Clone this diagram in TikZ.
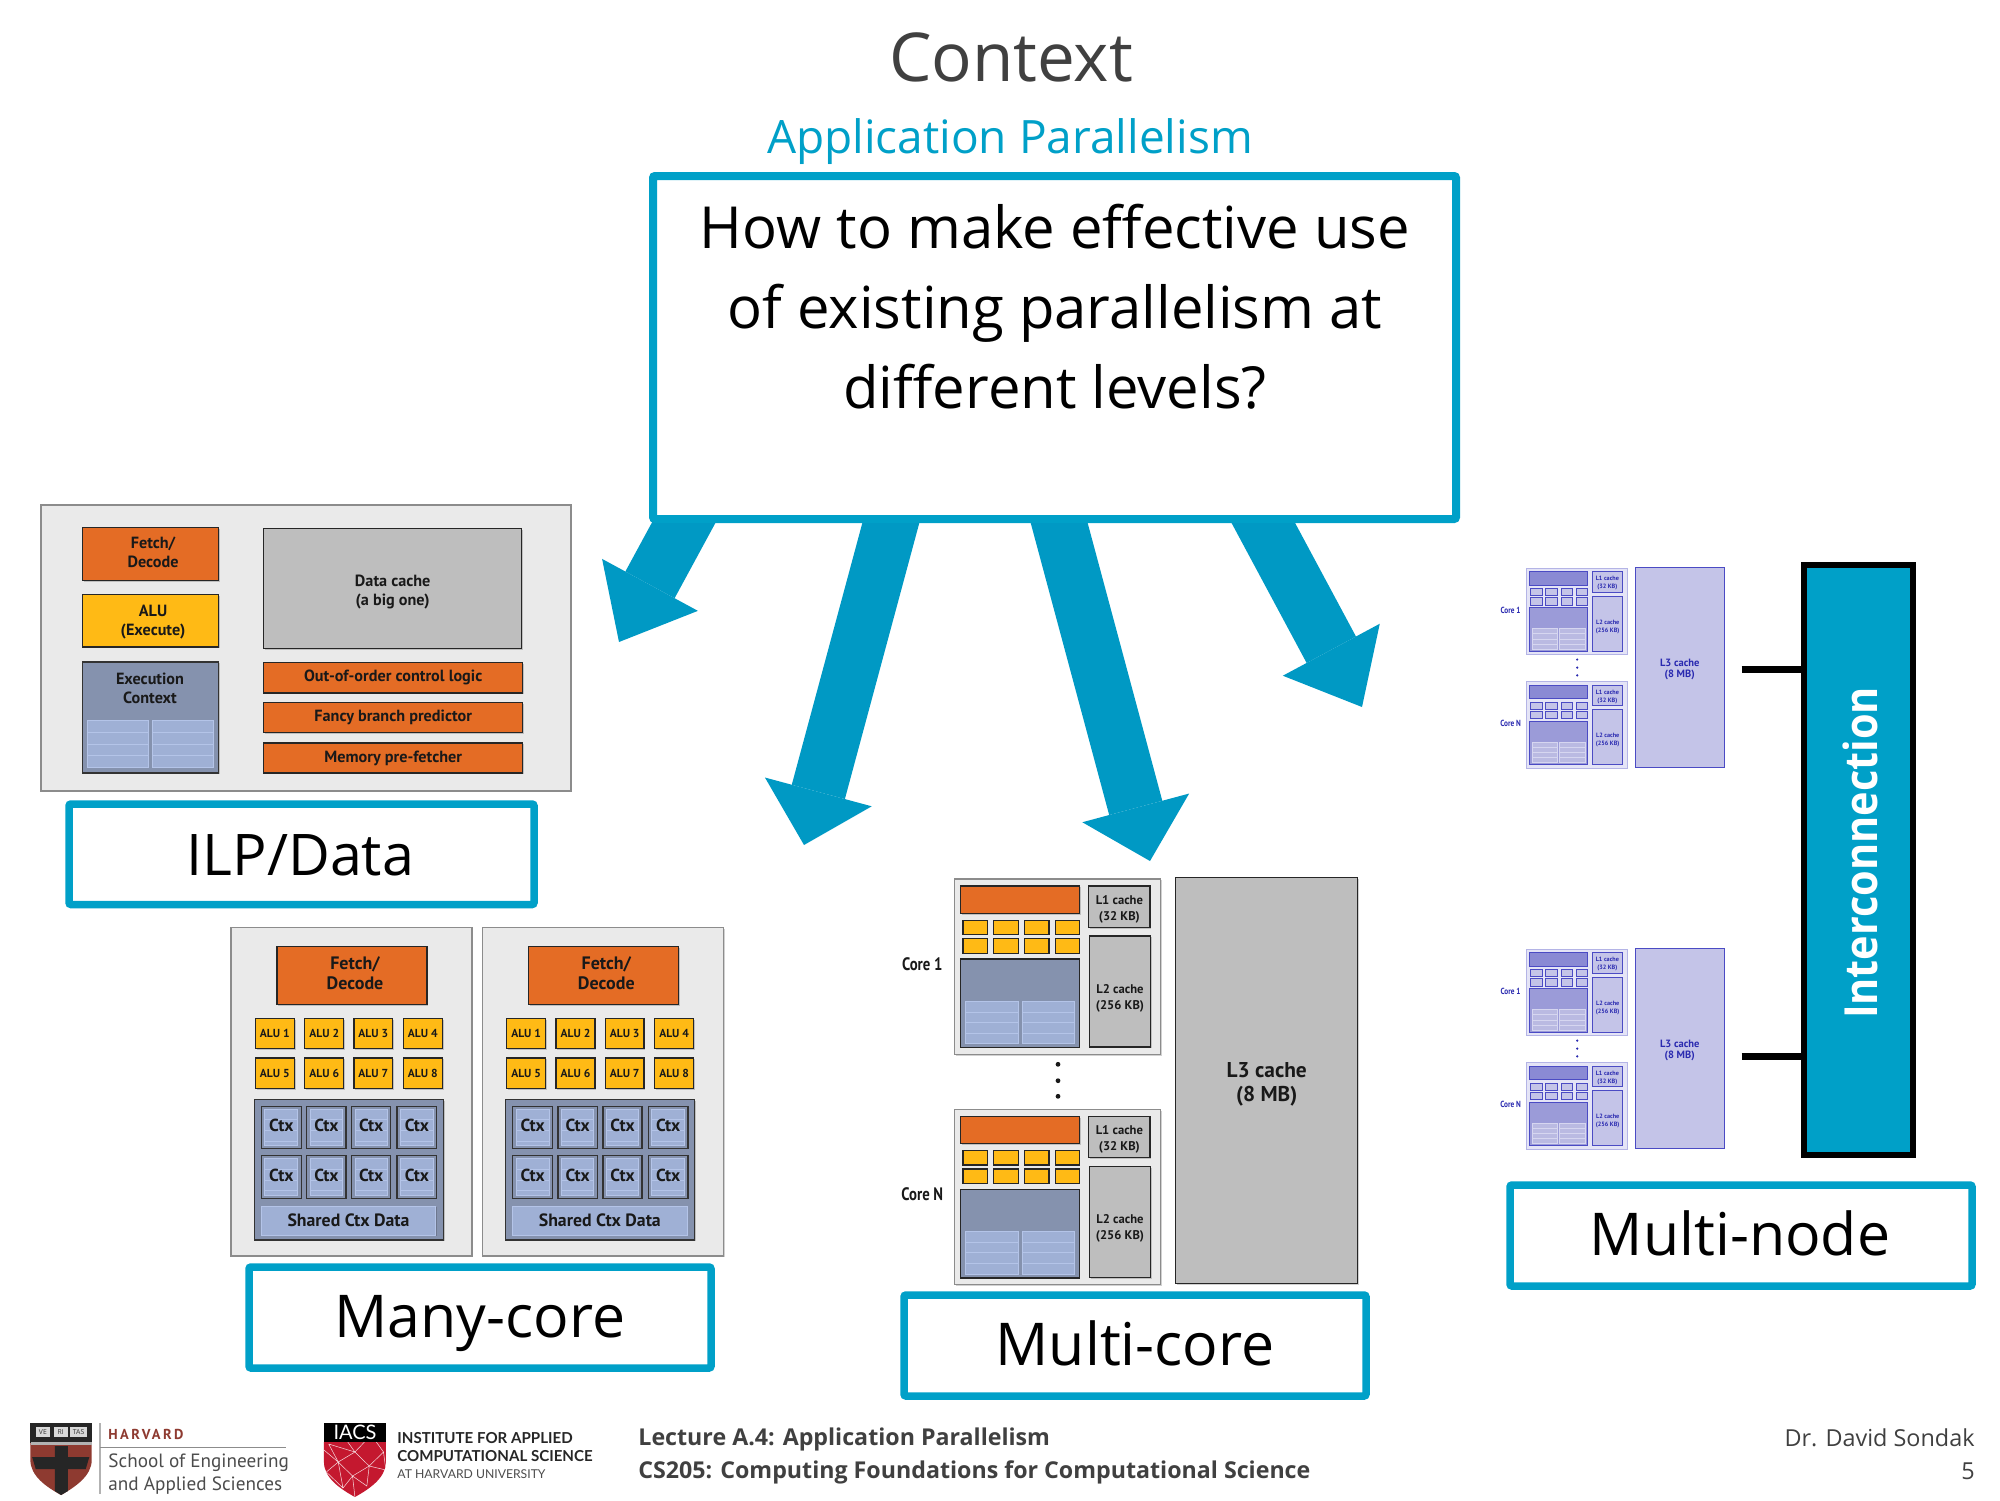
\documentclass[tikz,border=0pt]{standalone}
\usepackage{fontspec}
\usetikzlibrary{arrows.meta}
\setmainfont{Open Sans}
\newfontfamily\figf{PT Sans}
\newfontfamily\latof{Lato}
\definecolor{teal1}{HTML}{00A0C8}
\definecolor{teal2}{HTML}{0099C4}
\definecolor{titleg}{HTML}{404040}
\definecolor{panelg}{HTML}{EAEAEA}
\definecolor{orangec}{HTML}{E46C25}
\definecolor{yellowc}{HTML}{FFBA15}
\definecolor{ctxc}{HTML}{8592AE}
\definecolor{regc}{HTML}{9FB0D5}
\definecolor{reglc}{HTML}{B4C4E8}
\definecolor{cacheg}{HTML}{BEBEBE}
\definecolor{hred}{HTML}{8E3A30}
\definecolor{ired}{HTML}{C4182F}
\tikzset{
  labelbox/.style={draw=teal1,line width=3.75pt,fill=white,rounded corners=1pt},
  labeltext/.style={font=\fontsize{29.5}{35}\selectfont,anchor=base,text=black},
  bigarrow/.style={draw=teal2,line width=#1},
  panelbx/.style={draw=gray!90,fill=panelg,line width=.7pt},
  orangebx/.style={draw=black!85,fill=orangec,line width=.6pt},
  yellowbx/.style={draw=black!85,fill=yellowc,line width=.6pt},
  ctxbx/.style={draw=black!80,fill=ctxc,line width=.6pt},
  cachebx/.style={draw=black!85,fill=cacheg,line width=.6pt},
  sharedbx/.style={draw=reglc,fill=regc,line width=.5pt},
  bxt/.style={},
  foott/.style={anchor=base west,text=titleg,inner sep=0pt},
}
% box with a small shadow and a centred text node
\newcommand\bx[8][]{%
  \fill[black,opacity=.18] (#3+1.2,#4+1.2) rectangle (#5+1.2,#6+1.2);
  \path[#7] (#3,#4) rectangle (#5,#6) node[midway,align=center,inner sep=0pt,bxt,#1,name=#2] {#8};}
% register block: four rows
\newcommand\regs[4]{%
  \path[draw=reglc,fill=regc,line width=.5pt] (#1,#2) rectangle (#3,#4);
  \foreach \t in {.25,.5,.75}{\draw[reglc,line width=.5pt] (#1,{#2+\t*(#4-#2)}) -- (#3,{#2+\t*(#4-#2)});}}
% one many-core processor
\newcommand\manycore[1]{%
  \bx{#1p}{231}{927.7}{472}{1256}{panelbx}{}
  \begin{scope}[bxt/.style={font=\figf\bfseries\fontsize{9}{10.3}\selectfont,text=black!90}]
  \bx[yshift=1.2pt]{#1f}{277}{946.7}{427}{1004.7}{orangebx}{\hspace*{3pt}Fetch/\\\hspace*{3pt}Decode}
  \end{scope}
  \begin{scope}[bxt/.style={font=\figf\bfseries\fontsize{5.8}{7}\selectfont,text=black!90}]
  \foreach \i/\a/\b in {1/255.3/294.3,2/304.7/343.7,3/354/392.7,4/403.3/442.3}{
    \bx{#1a\i}{\a}{1018.3}{\b}{1048.7}{yellowbx}{ALU \i}}
  \foreach \i/\j/\a/\b in {5/5/255.3/294.3,6/6/304.7/343.7,7/7/354/392.7,8/8/403.3/442.3}{
    \bx{#1a\i}{\a}{1058}{\b}{1088.3}{yellowbx}{ALU \j}}
  \end{scope}
  \bx{#1c}{254.3}{1099.7}{443.3}{1240}{ctxbx}{}
  \begin{scope}[bxt/.style={font=\figf\bfseries\fontsize{8.7}{10}\selectfont,text=black!90}]
  \foreach \i/\a/\b in {1/261.3/301.3,2/306.7/346,3/351.7/390.7,4/397/436.7}{
    \foreach \r/\u/\v in {a/1106.3/1148.7,b/1155.3/1198.7}{
      \path[draw=black!80,fill=ctxc,line width=.6pt] (\a,\u) rectangle (\b,\v);
      \regs{\a+3.5}{\u+3}{\b-3.5}{\v-3}
      \node[bxt,inner sep=0pt,yshift=1pt,name=#1x\i\r] at ({(\a+\b)/2},{(\u+\v)/2}) {Ctx};
    }}
  \end{scope}
  \begin{scope}[bxt/.style={font=\figf\bfseries\fontsize{8.9}{10}\selectfont,text=black!90}]
  \bx{#1s}{261.3}{1206}{435.7}{1235}{sharedbx}{Shared Ctx Data}
  \end{scope}
}
% one multi-core chip, in the colours set by the enclosing scope
\newcommand\multicore[2]{%
  \foreach \k/\d in {a/0,b/230.3}{
  \begin{scope}[shift={(0,\d)}]
  \bx{#1\k p}{954.3}{879}{1160.7}{1054.3}{draw=mcpb,fill=mcpanel,line width=#2}{}
  \bx{#1\k o}{960.7}{886}{1079.3}{913.3}{draw=mcline,fill=mcorange,line width=#2}{}
  \begin{scope}[bxt/.style={font=\figf\bfseries\fontsize{6.3}{8}\selectfont,text=mctext}]
  \bx[yshift=-1.3pt]{#1\k l}{1088.7}{886}{1150}{927.3}{draw=mcline,fill=mccache,line width=#2}{L1 cache\\(32 KB)}
  \bx[yshift=-3.2pt]{#1\k m}{1089.3}{936}{1150.7}{1047}{draw=mcline,fill=mccache,line width=#2}{L2 cache\\(256 KB)}
  \end{scope}
  \foreach \a/\b in {963/987.3,993.7/1018.3,1024.7/1049,1055.3/1079.3}{
    \path[draw=mcline,fill=mcyellow,line width=#2] (\a,920.3) rectangle (\b,934.7);
    \path[draw=mcline,fill=mcyellow,line width=#2] (\a,938.7) rectangle (\b,953.3);}
  \path[draw=mcline,fill=mcctx,line width=#2] (960.7,959) rectangle (1079.3,1047.7);
  \path[draw=mcrl,fill=mcreg,line width=.4pt] (965.7,1001.3) rectangle (1018.3,1043.7);
  \path[draw=mcrl,fill=mcreg,line width=.4pt] (1022,1001.3) rectangle (1074.3,1043.7);
  \foreach \y in {1011.9,1022.5,1033.1}{
    \draw[mcrl,line width=.4pt] (965.7,\y) -- (1018.3,\y);
    \draw[mcrl,line width=.4pt] (1022,\y) -- (1074.3,\y);}
  \end{scope}}
  \fill[mctext] (1058,1064.3) circle (2.4);
  \fill[mctext] (1058,1080.7) circle (2.4);
  \fill[mctext] (1058,1096.3) circle (2.4);
  \node[font=\figf\bfseries\fontsize{9}{10}\selectfont,text=mctext,inner sep=0pt,name=#1n1] at (922.3,964.3) {\scalebox{.82}[1]{Core 1}};
  \node[font=\figf\bfseries\fontsize{9}{10}\selectfont,text=mctext,inner sep=0pt,name=#1n2] at (922.3,1194) {\scalebox{.82}[1]{Core N}};
  \begin{scope}[bxt/.style={font=\figf\bfseries\fontsize{10.7}{12}\selectfont,text=mctext}]
  \bx[yshift=-1.9pt]{#1l3}{1175.7}{877.7}{1357.7}{1283.7}{draw=mcline,fill=mccache,line width=#2}{L3 cache\\(8 MB)}
  \end{scope}
}
\begin{document}
\begin{tikzpicture}[x=.5pt,y=-.5pt]
\useasboundingbox (0,0) rectangle (2000,1500);
\fill[white] (0,0) rectangle (2000,1500);

\node[anchor=base,text=titleg,font=\fontsize{33.7}{38}\selectfont,name=title] at (1011,81) {Context};
\node[anchor=base,text=teal1,font=\fontsize{23}{26}\selectfont,name=subtitle] at (1010,153) {Application Parallelism};

% arrows run from behind the question box
\coordinate (a1s) at (696,500);  \coordinate (a1e) at (619,642);
\coordinate (a2s) at (897,500);  \coordinate (a2e) at (804,845);
\coordinate (a3s) at (1053,500); \coordinate (a3e) at (1150,861);
\coordinate (a4s) at (1251,500); \coordinate (a4e) at (1362,707);
\draw[bigarrow=28pt,-{Triangle[length=32.5pt,width=54.5pt,line width=0pt,fill=teal2]}] (a1s) -- (a1e);
\draw[bigarrow=27.5pt,-{Triangle[length=27.5pt,width=55.3pt,line width=0pt,fill=teal2]}] (a2s) -- (a2e);
\draw[bigarrow=27.5pt,-{Triangle[length=27.5pt,width=55.3pt,line width=0pt,fill=teal2]}] (a3s) -- (a3e);
\draw[bigarrow=28pt,-{Triangle[length=32.5pt,width=55pt,line width=0pt,fill=teal2]}] (a4s) -- (a4e);

\path[labelbox,line width=4pt] (653,176) rectangle (1456,519);
\node[align=center,text=black,font=\fontsize{29}{40}\selectfont,anchor=base,name=question] at (1055,408) {How to make effective use\\of existing parallelism at\\different levels?};

% ILP / data
\bx{ilp}{41}{505}{571}{791}{panelbx}{}
\begin{scope}[bxt/.style={font=\figf\bfseries\fontsize{8.1}{9.5}\selectfont,text=black!90}]
\bx[xshift=1.2pt,yshift=.6pt]{ilpf}{82.8}{527.7}{218.5}{580.3}{orangebx}{Fetch/\\Decode}
\bx[xshift=1.2pt,yshift=-.6pt]{ilpa}{82.8}{594.3}{218.5}{647}{yellowbx}{ALU\\(Execute)}
\bx{ilpe}{82.8}{662}{218.5}{773}{ctxbx}{}
\node[bxt,align=center,inner sep=0pt,name=ilpet] at (150,688.5) {Execution\\Context};
\bx[yshift=-1.9pt]{ilpd}{263.7}{528.3}{521.7}{648.3}{cachebx}{Data cache\\(a big one)}
\bx{ilpo}{263.7}{662.7}{522.7}{693}{orangebx}{Out-of-order control logic}
\bx{ilpb}{263.7}{702.7}{522.7}{732.7}{orangebx}{Fancy branch predictor}
\bx{ilpm}{263.7}{743}{522.7}{773}{orangebx}{Memory pre-fetcher}
\end{scope}
\regs{87.8}{720.7}{148.5}{767.3}
\regs{152.8}{720.7}{213}{767.3}
\path[labelbox] (69,804) rectangle (534,904.5);
\node[labeltext,font=\fontsize{28.7}{35}\selectfont,name=lilp] at (300.5,875) {ILP/Data};

% many-core
\manycore{m1}
\begin{scope}[shift={(251.33,0)}]
\manycore{m2}
\end{scope}
\path[labelbox] (249,1267) rectangle (711,1368);
\node[labeltext,name=lmany] at (480,1337) {Many-core};

% multi-core
\begin{scope}
\colorlet{mcpanel}{panelg}\colorlet{mcpb}{gray!90}\colorlet{mcline}{black!85}
\colorlet{mcorange}{orangec}\colorlet{mcyellow}{yellowc}\colorlet{mcctx}{ctxc}
\colorlet{mcreg}{regc}\colorlet{mcrl}{reglc}\colorlet{mccache}{cacheg}\colorlet{mctext}{black!90}
\multicore{c}{.6pt}
\end{scope}
\path[labelbox] (904,1295) rectangle (1366,1396);
\node[labeltext,name=lmulti] at (1135,1365) {Multi-core};

% multi-node
\definecolor{mcpanel}{HTML}{E4E4F6}\definecolor{mcpb}{HTML}{B4B4E6}\definecolor{mcline}{HTML}{4B4BC4}
\definecolor{mcorange}{HTML}{8A8AD4}\definecolor{mcyellow}{HTML}{C4C4E8}\definecolor{mcctx}{HTML}{9B9BD8}
\definecolor{mcreg}{HTML}{BABAE2}\definecolor{mcrl}{HTML}{D6D6F0}\definecolor{mccache}{HTML}{C4C4E8}\definecolor{mctext}{HTML}{2A2AB0}
\foreach \p/\dy in {u/0,v/381}{
\begin{scope}[shift={(1526.3,568.3+\dy)},xscale=.491,yscale=.4925,shift={(-954.3,-879)},transform shape]
\multicore{\p}{.35pt}
\end{scope}}

\coordinate (link1) at (1741.7,669);
\coordinate (link2) at (1741.7,1056);
\node[draw=black,line width=3pt,fill=teal1,minimum width=54.6pt,minimum height=295pt,inner sep=0pt,name=ic] at (1858.7,860) {};
\node[rotate=90,anchor=base,text=white,font=\bfseries\fontsize{22.8}{26}\selectfont,inner sep=0pt,name=ictext] at (1877,853) {\scalebox{.908}[1]{Interconnection}};
\draw[black,line width=3.5pt] (link1) -- (ic.west |- link1);
\draw[black,line width=3.5pt] (link2) -- (ic.west |- link2);
\path[labelbox] (1510,1185) rectangle (1972,1286);
\node[labeltext,name=lnode] at (1740,1255) {Multi-node};

% footer: Harvard
\begin{scope}[xscale=1.191]
\fill[hred] (25.5,1442) -- (77,1442) -- (77,1460) .. controls (77,1476) and (63,1487) .. (51.3,1495) .. controls (39,1487) and (25.5,1476) .. (25.5,1460) -- cycle;
\fill[black!85] (25.5,1423) rectangle (77,1443);
\fill[white!70!black] (26,1442) rectangle (77,1445);
\fill[black!85] (46,1446) -- (57,1446) -- (57,1457) -- (75,1457) -- (72,1469) -- (57,1469) -- (57,1491) -- (51.3,1495) -- (46,1491) -- (46,1469) -- (30,1469) -- (27,1457) -- (46,1457) -- cycle;
\foreach \a/\b/\t/\nm in {30/42/VE/va,45/57/RI/vb,59/73/TAS/vc}{
  \path[fill=white!85!black] (\a,1427) rectangle (\b,1437) node[midway,inner sep=0pt,font=\fontsize{3.4}{3}\selectfont,text=black!80,name=\nm] {\t};}
\end{scope}
\draw[black!30,line width=.6pt] (100,1423) -- (100,1494);
\draw[black!45,line width=.5pt] (100,1447) -- (286,1447);
\node[foott,font=\figf\bfseries\fontsize{7.2}{8}\selectfont,text=hred,name=hv] at (108,1439) {\addfontfeature{LetterSpace=17}HARVARD};
\node[foott,font=\figf\fontsize{9.6}{10}\selectfont,text=black!70,name=hs1] at (108,1467) {School of Engineering};
\node[foott,font=\figf\fontsize{9.6}{10}\selectfont,text=black!70,name=hs2] at (108,1490) {and Applied Sciences};

% footer: IACS
\begin{scope}[xscale=1.191]
\fill[ired] (272,1442) -- (324,1442) -- (324,1462) .. controls (324,1478) and (310,1489) .. (298,1497) .. controls (286,1489) and (272,1478) .. (272,1462) -- cycle;
\begin{scope}
\clip (272,1442) -- (324,1442) -- (324,1462) .. controls (324,1478) and (310,1489) .. (298,1497) .. controls (286,1489) and (272,1478) .. (272,1462) -- cycle;
\draw[white!85!ired,line width=.25pt] (276,1444) -- (284,1462) -- (274,1472) (284,1462) -- (298,1452) -- (292,1442) (298,1452) -- (310,1466) -- (322,1452) -- (316,1442) (298,1452) -- (306,1442) (310,1466) -- (296,1476) -- (284,1462) (296,1476) -- (298,1497) (310,1466) -- (308,1486) -- (296,1476) (284,1462) -- (288,1488) -- (296,1476) (276,1444) -- (298,1452) (322,1452) -- (324,1470) -- (310,1466) (274,1472) -- (288,1488) (284,1462) -- (272,1450);
\end{scope}
\fill[black] (272,1423) rectangle (324,1442);
\end{scope}
\node[text=white,font=\latof\fontsize{10}{10}\selectfont,inner sep=0pt,name=iacs] at (355,1432.5) {IACS};
\node[foott,font=\latof\bfseries\fontsize{7.55}{8}\selectfont,text=black!85,name=ia1] at (397,1443) {INSTITUTE FOR APPLIED};
\node[foott,font=\latof\bfseries\fontsize{7.55}{8}\selectfont,text=black!85,name=ia2] at (397,1461) {COMPUTATIONAL SCIENCE};
\node[foott,font=\latof\fontsize{6.1}{6}\selectfont,text=black!70,name=ia3] at (397,1478) {AT HARVARD UNIVERSITY};

% footer: lecture
\node[foott,font=\bfseries\fontsize{11.6}{14}\selectfont,name=lec1] at (638,1445) {Lecture A.4: Application Parallelism};
\node[foott,font=\bfseries\fontsize{11.6}{14}\selectfont,name=lec2] at (638,1478) {CS205: Computing Foundations for Computational Science};
\node[foott,anchor=base east,font=\fontsize{11.7}{14}\selectfont,name=auth] at (1975,1446) {Dr. David Sondak};
\node[foott,anchor=base east,font=\fontsize{11.7}{14}\selectfont,name=pg] at (1975,1479) {5};
\end{tikzpicture}
\end{document}
